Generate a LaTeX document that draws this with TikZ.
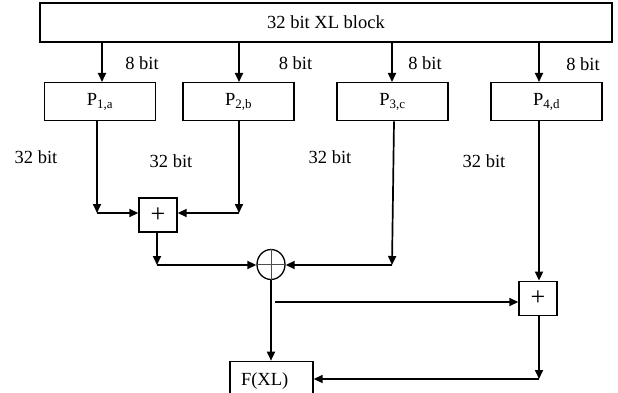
\documentclass[tikz,border=0pt]{standalone}
\usepackage{fontspec}
\setmainfont{Liberation Serif}
\usetikzlibrary{arrows.meta,shapes.geometric}
\begin{document}
\begin{tikzpicture}[x=1pt,y=-1pt,
  every node/.style={font=\fontsize{18.5}{20}\selectfont},
  box/.style={draw,line width=1.4pt,rectangle,inner sep=0pt},
  pbox/.style={box,minimum width=111pt,minimum height=38pt},
  addbox/.style={box,minimum width=38pt,minimum height=34pt,font=\fontsize{26}{26}\selectfont},
  lbl/.style={inner sep=0pt},
  arr/.style={line width=1.7pt,-{Triangle[length=9pt,width=8pt]}},
  ln/.style={line width=1.7pt}]
\useasboundingbox (0,0) rectangle (618,393);
\clip (0,0) rectangle (618,393);
% top block
\node[box,minimum width=572pt,minimum height=39pt] (top) at (326,22.5) {32 bit XL block};
% P boxes
\node[pbox] (P1) at (100,101.7) {P\textsubscript{1,a}};
\node[pbox] (P2) at (238.5,101.7) {P\textsubscript{2,b}};
\node[pbox] (P3) at (392.5,101.7) {P\textsubscript{3,c}};
\node[pbox] (P4) at (546.5,101.7) {P\textsubscript{4,d}};
% labels
\node[lbl] (l1) at (142,63) {8 bit};
\node[lbl] (l2) at (295.5,63) {8 bit};
\node[lbl] (l3) at (425,63) {8 bit};
\node[lbl] (l4) at (583,64) {8 bit};
\node[lbl] (m1) at (36,157) {32 bit};
\node[lbl] (m2) at (171,161) {32 bit};
\node[lbl] (m3) at (330,157) {32 bit};
\node[lbl] (m4) at (484,161) {32 bit};
% column coordinates
\coordinate (c1) at (102,0);
\coordinate (c2) at (239,0);
\coordinate (c3) at (392,0);
\coordinate (c4) at (539,0);
% top arrows
\draw[arr] (top.south -| c1) -- (P1.north -| c1);
\draw[arr] (top.south -| c2) -- (P2.north -| c2);
\draw[arr] (top.south -| c3) -- (P3.north -| c3);
\draw[arr] (top.south -| c4) -- (P4.north -| c4);
% adders and xor
\node[addbox] (plus1) at (158,215) {+};
\node[draw,ellipse,line width=1.3pt,minimum width=28pt,minimum height=30pt,inner sep=0pt] (xor) at (271,264.5) {};
\draw[line width=0.8pt,gray!60!black] (xor.north) -- (xor.south) (xor.west) -- (xor.east);
\node[addbox] (plus2) at (538,298.3) {+};
% F(XL) box
\node[box,anchor=north,inner xsep=11pt,inner ysep=0pt,text width=61pt,align=left,
      text height=24pt,text depth=22pt] (F) at (271.5,360.7) {F(XL)};
% coordinates
\coordinate (k1) at (97,213);
\coordinate (k2) at (239,213);
\coordinate (k3) at (157,265);
\coordinate (k4) at (392,265);
\coordinate (b) at (275,302);
\coordinate (k6) at (539,379);
% connectors
\draw[arr] (P1.south -| k1) -- (k1);
\draw[arr] (k1) -- (k1 -| plus1.west);
\draw[arr] (P2.south -| k2) -- (k2);
\draw[arr] (k2) -- (k2 -| plus1.east);
\draw[arr] (plus1.south -| k3) -- (k3);
\draw[arr] (k3) -- (k3 -| xor.west);
\draw[arr] (P3.south -| 394,0) -- (k4);
\draw[arr] (k4) -- (k4 -| xor.east);
\draw[arr] (xor.south) -- (F.north -| xor.south);
\draw[arr] (b) -- (b -| plus2.west);
\draw[arr] (P4.south -| c4) -- (plus2.north -| c4);
\draw[arr] (plus2.south -| k6) -- (k6);
\draw[arr] (k6) -- (F.east |- k6);
\end{tikzpicture}
\end{document}
